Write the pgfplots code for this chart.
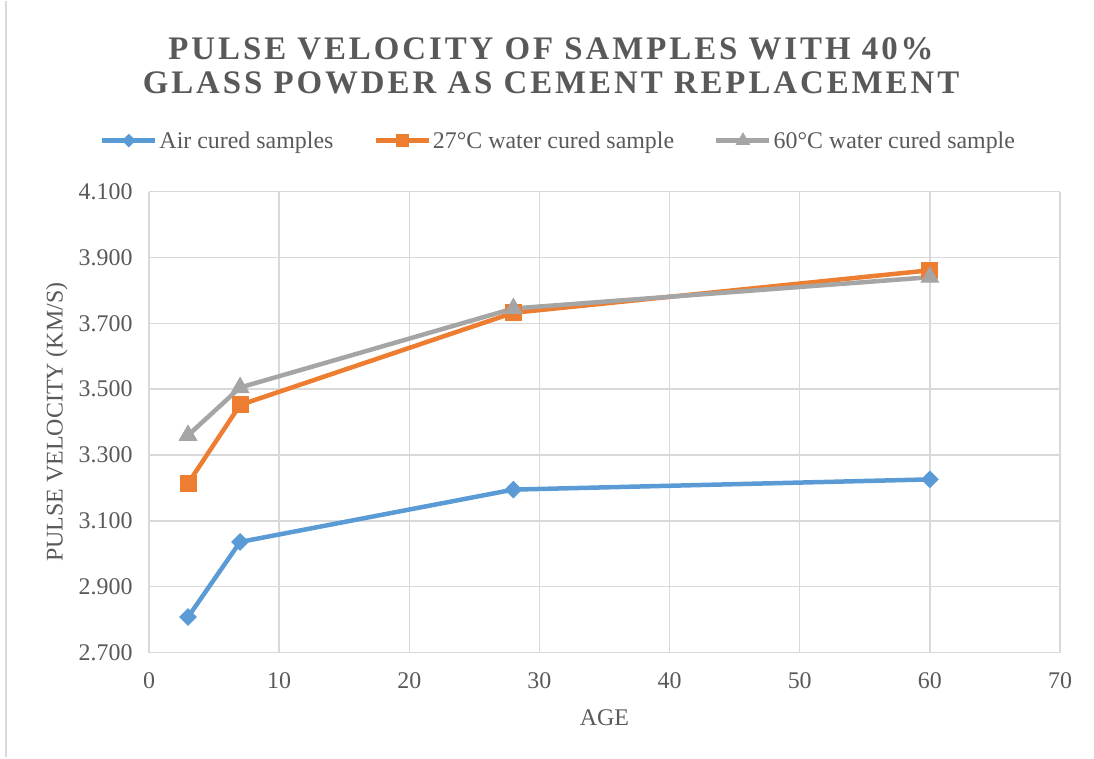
\documentclass[border=0pt]{standalone}
\usepackage{fontspec}
\setmainfont{Liberation Serif}
\usepackage{pgfplots}
\pgfplotsset{compat=1.18}
\definecolor{txt}{HTML}{595959}
\definecolor{gridc}{HTML}{D9D9D9}
\definecolor{cblue}{HTML}{5B9BD5}
\definecolor{corange}{HTML}{ED7D31}
\definecolor{cgray}{HTML}{A5A5A5}
\begin{document}
\begin{tikzpicture}
\begin{axis}[
  scale only axis,
  width=911bp, height=461bp,
  xmin=0, xmax=70, ymin=2.7, ymax=4.1,
  xtick={0,10,...,70},
  ytick={2.7,2.9,...,4.1},
  /pgf/number format/assume math mode=true,
  yticklabel style={/pgf/number format/fixed,/pgf/number format/fixed zerofill,/pgf/number format/precision=3, xshift=-13bp},
  ticklabel style={font=\fontsize{24}{28}\selectfont, text=txt},
  xticklabel style={yshift=-16bp},
  major tick length=0pt,
  grid=major,
  major grid style={gridc, line width=1.5bp},
  axis line style={gridc, line width=1.5bp},
  axis x line*=bottom, axis y line*=left,
  xlabel={AGE},
  ylabel={PULSE VELOCITY (KM/S)},
  label style={font=\fontsize{24}{28}\selectfont, text=txt},
  xlabel style={at={(axis description cs:0.5,-0.141)},anchor=center},
  ylabel style={at={(axis description cs:-0.101,0.5)},anchor=center},
  legend style={at={(axis description cs:0.4495,1.1106)},anchor=center,
    draw=none, fill=none, font=\fontsize{24}{28}\selectfont, text=txt,
    /tikz/every even column/.append style={column sep=38bp}},
  legend columns=3,
  legend image code/.code={\draw[mark repeat=2,mark phase=2,#1,every mark/.append style={scale=0.75}] plot coordinates {(0bp,0bp) (26.5bp,0bp) (53bp,0bp)};},
  clip=false,
]
\addplot[cblue, line width=4.5bp, mark=square*, mark size=5.8bp, mark options={rotate=45,line width=1bp}] coordinates {(3,2.808) (7,3.036) (28,3.195) (60,3.226)};
\addlegendentry{Air cured samples}
\addplot[corange, line width=4.5bp, mark=square*, mark size=8bp, mark options={line width=1bp}] coordinates {(3,3.214) (7,3.452) (28,3.732) (60,3.861)};
\addlegendentry{27°C water cured sample}
\addplot[cgray, line width=4.5bp, mark=triangle*, mark size=10bp, mark options={line width=1bp}] coordinates {(3,3.360) (7,3.505) (28,3.745) (60,3.840)};
\addlegendentry{60°C water cured sample}
\coordinate (O) at (rel axis cs:0,0);
\end{axis}
\path (O) ++(-149bp,-106bp) coordinate (BL);
\path (BL) rectangle ++(1094bp,758bp);
\draw[gridc, line width=1.2bp] ([xshift=6bp,yshift=2bp]BL) -- ++(0,756bp);
\node[font=\fontsize{33}{38}\selectfont\bfseries\addfontfeature{LetterSpace=9}, text=txt, align=center] at ([xshift=402bp,yshift=604bp]O) {PULSE VELOCITY OF SAMPLES WITH 40\%};
\node[font=\fontsize{33}{38}\selectfont\bfseries\addfontfeature{LetterSpace=9}, text=txt, align=center] at ([xshift=402bp,yshift=570bp]O) {GLASS POWDER AS CEMENT REPLACEMENT};
\end{tikzpicture}
\end{document}
